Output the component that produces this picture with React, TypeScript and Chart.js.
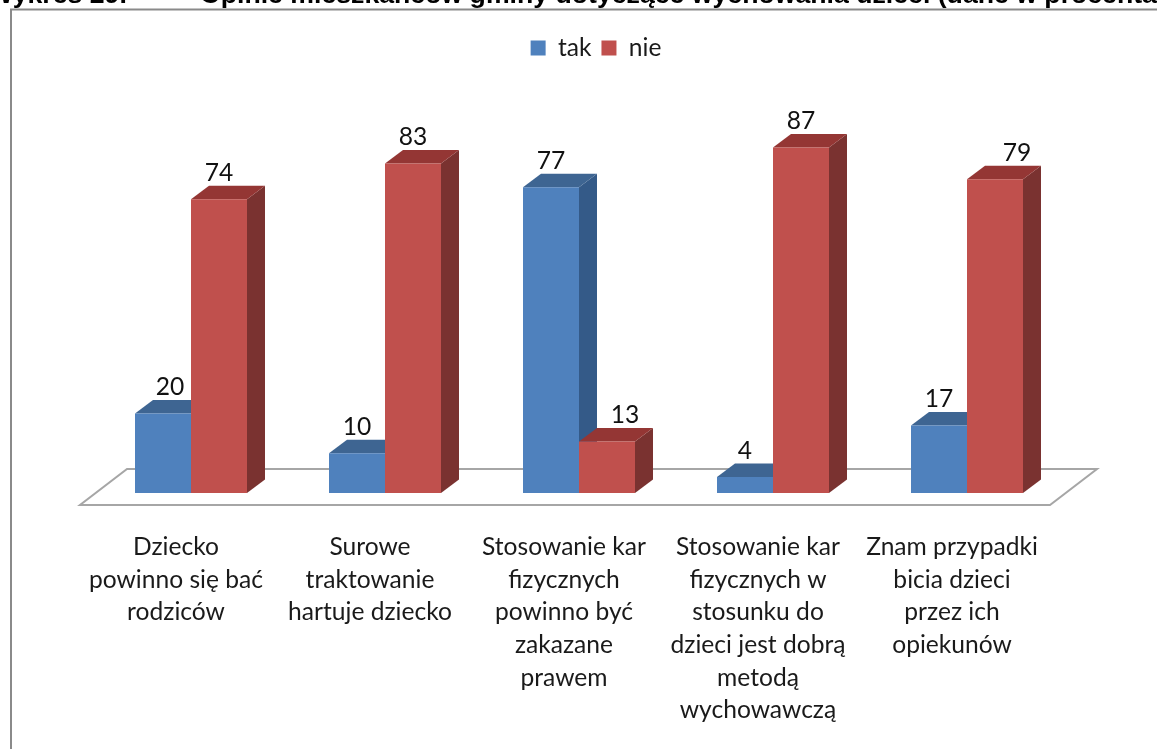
import React, { useEffect, useRef } from "react";
import { Chart, registerables } from "chart.js";

Chart.register(...registerables);

const categories: string[][] = [
  ["Dziecko", "powinno się bać", "rodziców"],
  ["Surowe", "traktowanie", "hartuje dziecko"],
  ["Stosowanie kar", "fizycznych", "powinno być", "zakazane", "prawem"],
  ["Stosowanie kar", "fizycznych w", "stosunku do", "dzieci jest dobrą", "metodą", "wychowawczą"],
  ["Znam przypadki", "bicia dzieci", "przez ich", "opiekunów"],
];
const tak = [20, 10, 77, 4, 17];
const nie = [74, 83, 13, 87, 79];

const headerLeft = "Wykres 29.";
const headerRight = "Opinie mieszkańców gminy dotyczące wychowania dzieci (dane w procentach)";

const FONT = "Lato, 'Noto Sans', sans-serif";
const DX = 18;
const DY = 13.5;
const palette = [
  { front: "#4F81BD", top: "#3E6592", side: "#345A88" },
  { front: "#C0504D", top: "#943634", side: "#7A3230" },
];
// horizontal nudges of the value labels, per dataset then per category
const labelNudge = [
  [7, 0, 0, 0, 0],
  [0, 0, 18, 0, 22],
];

const poly = (ctx: CanvasRenderingContext2D, pts: number[][], fill: string) => {
  ctx.beginPath();
  pts.forEach(([x, y], i) => (i ? ctx.lineTo(x, y) : ctx.moveTo(x, y)));
  ctx.closePath();
  ctx.fillStyle = fill;
  ctx.fill();
};

const scene = {
  id: "scene",
  beforeDraw(chart: any) {
    const { ctx } = chart;
    ctx.save();
    ctx.fillStyle = "#fff";
    ctx.fillRect(0, 0, chart.width, chart.height);
    ctx.fillStyle = "#000";
    ctx.font = "bold 26.66px 'Liberation Sans', Arial, sans-serif";
    ctx.textBaseline = "alphabetic";
    ctx.textAlign = "left";
    ctx.fillText(headerLeft, -12, 3);
    ctx.fillText(headerRight, 200, 3);
    ctx.strokeStyle = "#8A8A8A";
    ctx.lineWidth = 2;
    ctx.beginPath();
    ctx.moveTo(11, chart.height);
    ctx.lineTo(11, 9.5);
    ctx.lineTo(chart.width, 9.5);
    ctx.stroke();
    ctx.restore();
  },
  beforeDatasetsDraw(chart: any) {
    const { ctx, scales } = chart;
    const base = scales.y.getPixelForValue(0);
    const l = scales.x.left;
    const r = scales.x.right;
    ctx.save();
    ctx.strokeStyle = "#A6A6A6";
    ctx.lineWidth = 2;
    ctx.beginPath();
    ctx.moveTo(l - 14, base + 12);
    ctx.lineTo(r - 14, base + 12);
    ctx.lineTo(r + 33, base - 24);
    ctx.lineTo(l + 33, base - 24);
    ctx.closePath();
    ctx.stroke();
    chart.data.datasets.forEach((_: any, d: number) => {
      chart.getDatasetMeta(d).data.forEach((bar: any) => {
        const p = bar.getProps(["x", "y", "base", "width"]);
        const x0 = p.x - p.width / 2;
        const x1 = p.x + p.width / 2;
        poly(ctx, [[x1, p.y], [x1 + DX, p.y - DY], [x1 + DX, p.base - DY], [x1, p.base]], palette[d].side);
        poly(ctx, [[x0, p.y], [x0 + DX, p.y - DY], [x1 + DX, p.y - DY], [x1, p.y]], palette[d].top);
      });
    });
    ctx.restore();
  },
  afterDatasetsDraw(chart: any) {
    const { ctx } = chart;
    ctx.save();
    ctx.fillStyle = "#111";
    ctx.font = `24.6px ${FONT}`;
    ctx.textAlign = "center";
    ctx.textBaseline = "middle";
    chart.data.datasets.forEach((ds: any, d: number) => {
      chart.getDatasetMeta(d).data.forEach((bar: any, i: number) => {
        ctx.fillText(String(ds.data[i]), bar.x + labelNudge[d][i], bar.y - 26.5);
      });
    });
    ctx.restore();
  },
};

export default function App() {
  const ref = useRef<HTMLCanvasElement>(null);
  useEffect(() => {
    const chart = new Chart(ref.current!, {
      type: "bar",
      data: {
        labels: categories,
        datasets: [
          { label: "tak", data: tak, backgroundColor: palette[0].front },
          { label: "nie", data: nie, backgroundColor: palette[1].front },
        ],
      },
      plugins: [scene],
      options: {
        animation: false,
        responsive: false,
        maintainAspectRatio: false,
        layout: { padding: { left: 35, top: 25.7, right: 0, bottom: 0 } },
        datasets: { bar: { categoryPercentage: 112 / 194, barPercentage: 1 } },
        scales: {
          x: {
            grid: { display: false },
            border: { display: false },
            afterFit: (s: any) => { s.height = 256; },
            ticks: {
              autoSkip: false,
              maxRotation: 0,
              minRotation: 0,
              padding: 30,
              labelOffset: -15,
              color: "#1A1A1A",
              font: { family: FONT, size: 24.6, lineHeight: 1.325 },
            },
          },
          y: {
            min: 0,
            max: 106.47,
            grid: { display: false },
            border: { display: false },
            ticks: { display: false },
            afterFit: (s: any) => { s.width = 59; },
          },
          y2: {
            position: "right",
            grid: { display: false },
            border: { display: false },
            ticks: { display: false },
            afterFit: (s: any) => { s.width = 93; },
          },
        },
        plugins: {
          tooltip: { enabled: false },
          legend: {
            position: "top",
            labels: {
              boxWidth: 15,
              boxHeight: 15,
              padding: 10,
              color: "#1A1A1A",
              font: { family: FONT, size: 24.6 },
            },
          },
        },
      } as any,
    });
    return () => chart.destroy();
  }, []);
  return (
    <div style={{ position: "absolute", left: 0, top: 0, width: 1157, height: 749, overflow: "hidden" }}>
      <canvas ref={ref} width={1157} height={749} style={{ display: "block", filter: "blur(0.45px)" }} />
    </div>
  );
}
